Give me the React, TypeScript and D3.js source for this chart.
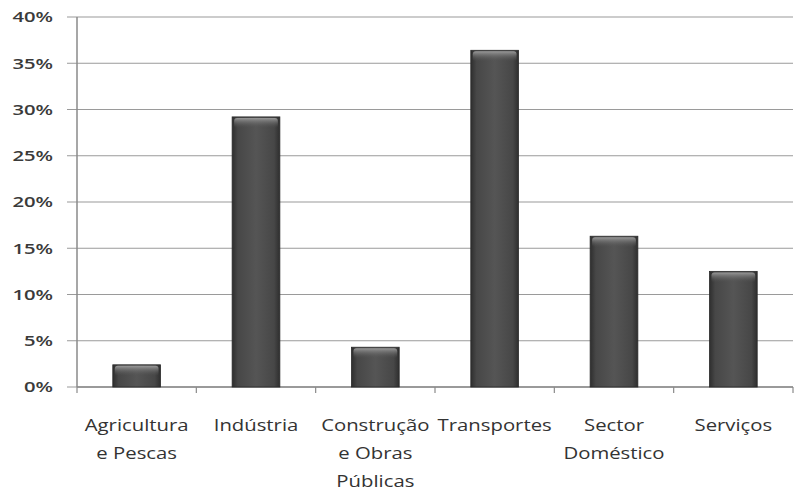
import React from "react";
import * as d3 from "d3";

const categories: string[][] = [
  ["Agricultura", "e Pescas"],
  ["Indústria"],
  ["Construção", "e Obras", "Públicas"],
  ["Transportes"],
  ["Sector", "Doméstico"],
  ["Serviços"],
];
const values: number[] = [2.4, 29.2, 4.3, 36.4, 16.3, 12.5];
const yTicks: number[] = [0, 5, 10, 15, 20, 25, 30, 35, 40];

export default function App() {
  const W = 795, H = 490;
  const left = 77, right = 793, top = 17, bottom = 387;
  const x = d3.scaleBand<number>().domain(d3.range(values.length)).range([left, right]).paddingInner(0.6).paddingOuter(0.3);
  const xb = d3.scaleBand<number>().domain(d3.range(values.length)).range([left, right]);
  const y = d3.scaleLinear().domain([0, 40]).range([bottom, top]);
  const font = "'Open Sans', 'Noto Sans', sans-serif";
  return (
    <svg width={W} height={H} style={{ position: "absolute", left: 0, top: 0, background: "#fff" }}>
      <defs>
        <linearGradient id="barH" x1="0" x2="1" y1="0" y2="0">
          <stop offset="0" stopColor="#2e2e2e" />
          <stop offset="0.12" stopColor="#474747" />
          <stop offset="0.5" stopColor="#555555" />
          <stop offset="0.88" stopColor="#474747" />
          <stop offset="1" stopColor="#2e2e2e" />
        </linearGradient>
        <linearGradient id="barTop" x1="0" x2="0" y1="0" y2="1">
          <stop offset="0" stopColor="#9a9a9a" />
          <stop offset="1" stopColor="#555555" stopOpacity="0" />
        </linearGradient>
      </defs>
      {yTicks.map((t) => (
        <g key={t}>
          <line x1={left - 10} x2={right} y1={y(t)} y2={y(t)} stroke="#9a9a9a" strokeWidth={1.2} />
          <g transform={`translate(53,${y(t)}) scale(1.35,1)`}>
            <text dy="0.36em" textAnchor="end" fontFamily={font} fontSize={15} fontWeight={600} fill="#3a3a3a">
              {t}%
            </text>
          </g>
        </g>
      ))}
      <line x1={left} x2={left} y1={top} y2={bottom} stroke="#8a8a8a" strokeWidth={1.5} />
      <line x1={left} x2={right} y1={bottom} y2={bottom} stroke="#8a8a8a" strokeWidth={1.5} />
      {d3.range(values.length + 1).map((i) => {
        const xx = left + i * xb.step();
        return <line key={i} x1={xx} x2={xx} y1={bottom} y2={bottom + 6} stroke="#8a8a8a" strokeWidth={1.2} />;
      })}
      {values.map((v, i) => {
        const bx = x(i)!;
        const bw = x.bandwidth();
        const by = y(v);
        const bh = bottom - by;
        return (
          <g key={i}>
            <rect x={bx} y={by} width={bw} height={bh} fill="url(#barH)" stroke="#2a2a2a" strokeWidth={0.8} />
            <rect x={bx + 2} y={by + 1} width={bw - 4} height={Math.min(10, bh - 2)} rx={3} fill="url(#barTop)" />
          </g>
        );
      })}
      {categories.map((lines, i) => {
        const cx = xb(i)! + xb.bandwidth() / 2;
        return (
          <g key={i}>
            {lines.map((l, j) => (
              <g key={j} transform={`translate(${cx},${431 + j * 28}) scale(1.27,1)`}>
                <text textAnchor="middle" fontFamily={font} fontSize={16} fill="#333">
                  {l}
                </text>
              </g>
            ))}
          </g>
        );
      })}
    </svg>
  );
}
